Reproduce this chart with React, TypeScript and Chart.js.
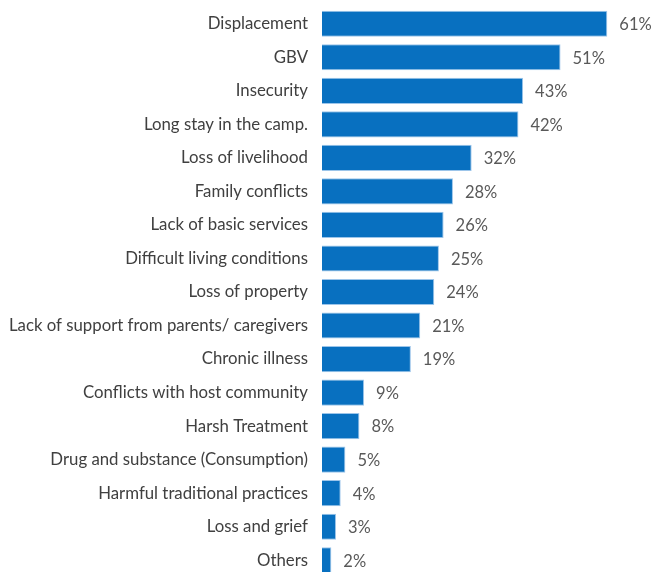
import React, { useEffect, useRef } from "react";
import { Chart, registerables } from "chart.js";

Chart.register(...registerables);

const categories = [
  "Displacement",
  "GBV",
  "Insecurity",
  "Long stay in the camp.",
  "Loss of livelihood",
  "Family conflicts",
  "Lack of basic services",
  "Difficult living conditions",
  "Loss of property",
  "Lack of support from parents/ caregivers",
  "Chronic illness",
  "Conflicts with host community",
  "Harsh Treatment",
  "Drug and substance (Consumption)",
  "Harmful traditional practices",
  "Loss and grief",
  "Others",
];
const values = [61, 51, 43, 42, 32, 28, 26, 25, 24, 21, 19, 9, 8, 5, 4, 3, 2];

const FONT = "Lato, 'Open Sans', sans-serif";

const valueLabels = {
  id: "valueLabels",
  afterDatasetsDraw(chart: any) {
    const ctx = chart.ctx;
    const meta = chart.getDatasetMeta(0);
    ctx.save();
    ctx.font = `16.5px ${FONT}`;
    ctx.fillStyle = "#595959";
    ctx.textAlign = "left";
    ctx.textBaseline = "middle";
    meta.data.forEach((bar: any, i: number) => {
      ctx.fillText(values[i] + "%", bar.x + 12, bar.y + 1);
    });
    ctx.restore();
  },
};

export default function App() {
  const ref = useRef<HTMLCanvasElement>(null);
  useEffect(() => {
    const chart = new Chart(ref.current!, {
      type: "bar",
      data: {
        labels: categories,
        datasets: [
          {
            data: values,
            backgroundColor: "#0870C0",
            borderColor: "#9CC5EA",
            borderWidth: 1,
            barPercentage: 0.78,
            categoryPercentage: 1,
          },
        ],
      },
      options: {
        indexAxis: "y",
        responsive: false,
        animation: false,
        layout: { padding: { top: 7, bottom: 3, left: 0, right: 4 } },
        plugins: { legend: { display: false }, tooltip: { enabled: false } },
        scales: {
          x: { display: false, min: 0, max: 69.7 },
          y: {
            grid: { display: false, drawTicks: false },
            border: { display: false },
            ticks: {
              padding: 14,
              color: "#404040",
              font: { family: FONT, size: 16.8 },
              autoSkip: false,
            },
            afterFit(scale: any) {
              scale.width = 322;
              scale.paddingTop = 0;
              scale.paddingBottom = 0;
            },
          },
        },
      },
      plugins: [valueLabels],
    });
    return () => chart.destroy();
  }, []);
  return (
    <div style={{ position: "fixed", left: 0, top: 0, width: 652, height: 572, overflow: "hidden", background: "#fff" }}>
      <canvas ref={ref} width={652} height={580} style={{ display: "block" }} />
    </div>
  );
}
